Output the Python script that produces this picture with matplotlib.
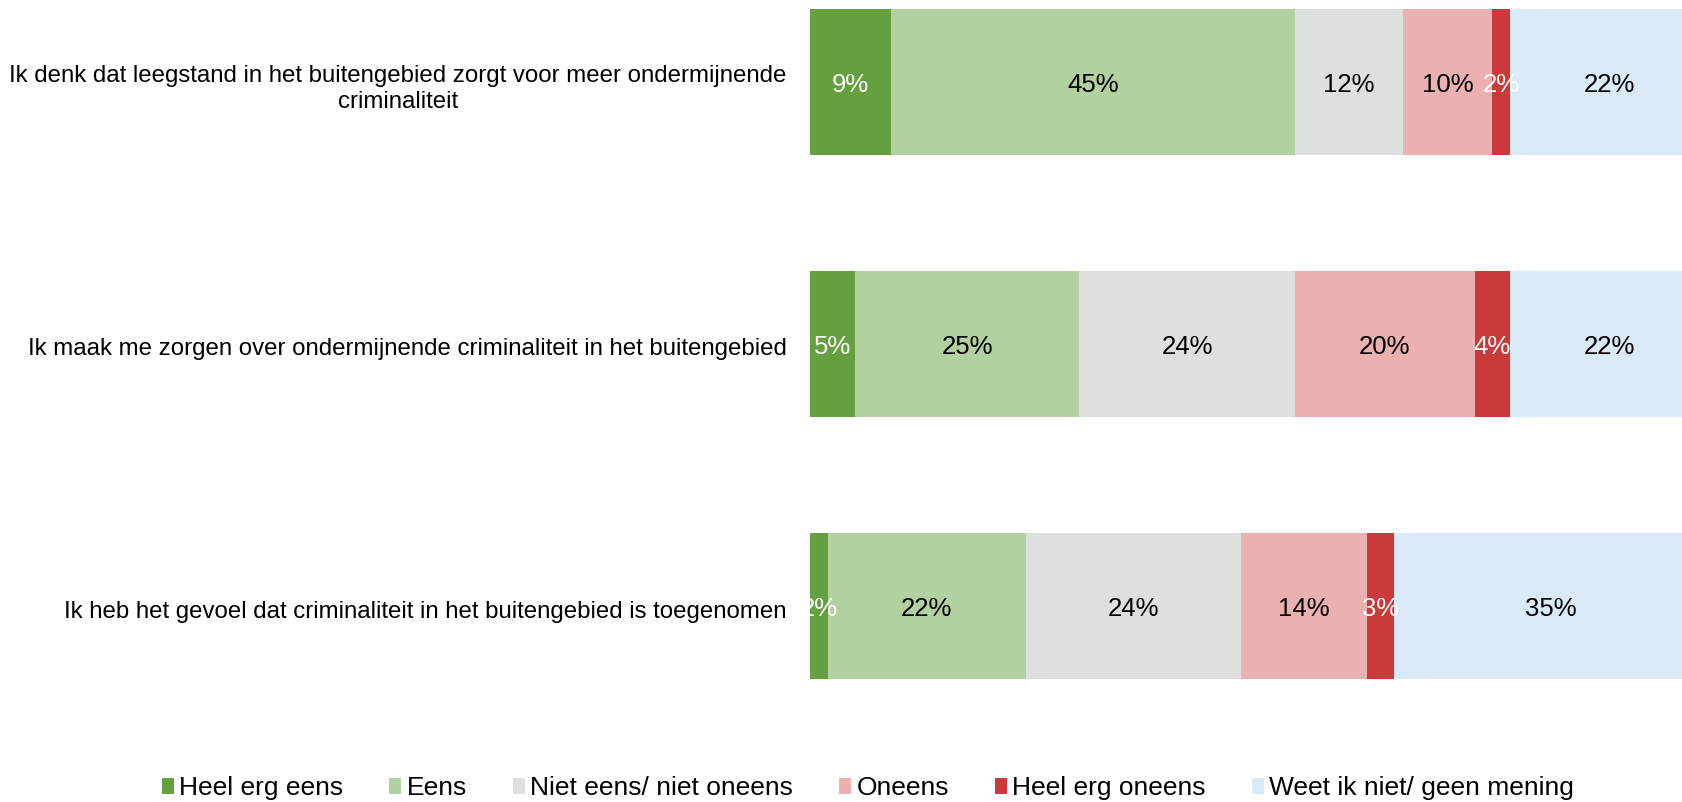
import numpy as np
import matplotlib.pyplot as plt
import matplotlib.transforms as mtransforms
from matplotlib.patches import Patch

plt.rcParams['font.family'] = ['Liberation Sans', 'DejaVu Sans']

# stellingen (top to bottom)
stellingen = [
    'Ik denk dat leegstand in het buitengebied zorgt voor meer ondermijnende\ncriminaliteit',
    'Ik maak me zorgen over ondermijnende criminaliteit in het buitengebied',
    'Ik heb het gevoel dat criminaliteit in het buitengebied is toegenomen',
]
categorieen = ['Heel erg eens', 'Eens', 'Niet eens/ niet oneens', 'Oneens',
               'Heel erg oneens', 'Weet ik niet/ geen mening']
heel_erg_eens = [9, 5, 2]
eens = [45, 25, 22]
neutraal = [12, 24, 24]
oneens = [10, 20, 14]
heel_erg_oneens = [2, 4, 3]
weet_niet = [22, 22, 35]

kleuren = ['#64A03F', '#B3D0A0', '#DEDFDF', '#EAB1B0', '#CA3A3A', '#DAEAF9']
tekstkleur = ['white', 'black', 'black', 'black', 'white', 'black']

series = [heel_erg_eens, eens, neutraal, oneens, heel_erg_oneens, weet_niet]

W, H = 1682, 802
fig = plt.figure(figsize=(W / 100, H / 100), dpi=100)
# plot area runs past the right edge of the picture (as in the original)
ax = fig.add_axes([810 / W, 1 - 740 / H, 898 / W, 740 / H])

# text sits a few pixels lower than the bar centre in the original
omlaag = mtransforms.ScaledTranslation(0, -3.2 / 100, fig.dpi_scale_trans)

ypos = np.arange(len(stellingen))
left = np.zeros(len(stellingen))
for vals, kl, tk in zip(series, kleuren, tekstkleur):
    vals = np.array(vals, dtype=float)
    ax.barh(ypos, vals, left=left, height=0.557, color=kl, edgecolor='none')
    for y, l, v in zip(ypos, left, vals):
        ax.text(l + v / 2, y, f'{v:.0f}%', ha='center', va='center',
                color=tk, fontsize=18.5, transform=ax.transData + omlaag)
    left += vals

ax.set_xlim(0, 100)
ax.set_ylim(2.511, -0.311)
ax.set_yticks(ypos)
ax.set_yticklabels(stellingen, fontsize=17.3, ha='right', multialignment='center')
ax.tick_params(axis='y', length=0, pad=17)
for lbl in ax.get_yticklabels():
    lbl.set_transform(lbl.get_transform() + omlaag)
ax.set_xticks([])
for s in ax.spines.values():
    s.set_visible(False)

handles = [Patch(facecolor=k, edgecolor='none') for k in kleuren]
fig.legend(handles, categorieen, loc='center', bbox_to_anchor=(868 / W, 1 - 788 / H),
           ncol=6, frameon=False, fontsize=19, handlelength=0.45, handleheight=0.57,
           handletextpad=0.2, columnspacing=1.75)

fig.savefig('out.png', dpi=100)
